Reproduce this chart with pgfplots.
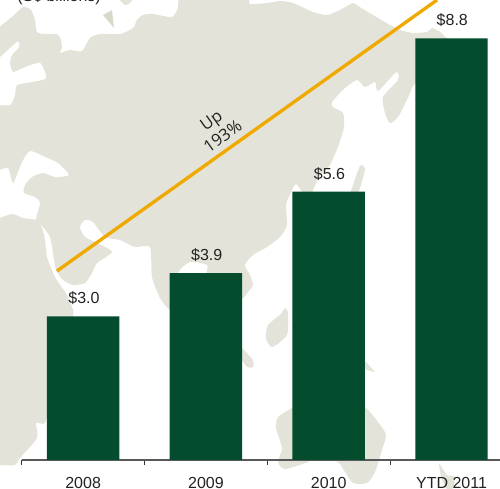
\documentclass[border=0pt]{standalone}
\usepackage{fontspec}
\setmainfont{Liberation Sans}
\newfontfamily\notefont{Open Sans}
\usepackage{pgfplots}
\pgfplotsset{compat=1.18}
\definecolor{land}{HTML}{E3E3D9}
\definecolor{landdk}{HTML}{D8D9CB}
\definecolor{bargreen}{HTML}{034D2E}
\definecolor{lineorange}{HTML}{EFA900}
\definecolor{txt}{HTML}{222222}
\begin{document}
\begin{tikzpicture}
\useasboundingbox (0,0) rectangle (375pt,366.75pt);
\clip (0,0) rectangle (375pt,366.75pt);
% map behind the chart, in picture pixels
\begin{axis}[
  at={(0,0)},scale only axis,width=375pt,height=366.75pt,
  xmin=0,xmax=500,ymin=0,ymax=489,y dir=reverse,hide axis
]
\addplot[fill=land,draw=none,smooth,tension=0.4] coordinates {
(-5,30)(12,17)(23,7)(31,10)(35,20)(37,32)(45,34)(57,34)(61,40)(62,48)(60,53)(70,50)(82,51)(90,38)(100,34)
(120,34)(133,28)(137,20)(143,15)(153,14)(172,17)(178,8)(183,-3)(245,-3)(250,4)(267,3)(280,1)(293,3)(313,12)
(327,15)(340,10)(353,3)(358,6)(373,15)(390,25)(400,30)(413,33)(427,32)(432,28)(440,32)(447,38)(470,50)(440,90)
(416,83)(407,100)(398,117)(390,123)(385,113)(383,97)(398,80)(398,73)(395,73)(378,91)(375,82)(365,87)(357,80)
(345,88)(332,102)(333,107)(343,113)(344,127)(339,144)(330,165)(320,175)(312,192)(305,200)(302,192)(296,184)
(291,192)(286,205)(287,225)(280,237)(267,247)(253,255)(245,265)(250,275)(253,285)(248,292)(240,300)(215,300)
(207,273)(207,265)(190,262)(178,273)(175,300)(170,310)(160,298)(152,277)(150,247)(135,247)(120,240)(105,237)
(93,222)(85,220)(80,227)(85,237)(97,243)(112,252)(97,263)(92,273)(85,283)(73,285)(63,280)(56,270)(53,253)
(50,237)(43,227)(36,220)(40,203)(35,197)(24,193)(25,185)(32,177)(43,173)(55,177)(69,175)(58,163)(43,156)
(30,151)(22,162)(13,183)(8,168)(-5,172)
};
% Africa
\addplot[fill=land,draw=none,smooth,tension=0.4] coordinates {
(-5,220)(12,214)(23,218)(36,220)(42,228)(45,240)(47,257)(55,277)(67,295)(72,307)(73,316)(60,350)(50,400)
(45,423)(36,423)(37,438)(20,458)(15,465)(-5,465)
};
% inland sea
\addplot[fill=white,draw=none,smooth,tension=0.4] coordinates {
(-5,62)(17,42)(19,47)(12,55)(10,63)(13,72)(23,68)(40,63)(46,78)(32,82)(17,85)(15,95)(10,105)(-5,105)
};
% islands
\addplot[fill=landdk,draw=none] coordinates {(103,15)(112,10)(114,28)};
\addplot[fill=land,draw=none,smooth,tension=0.4] coordinates {(118,-3)(120,0)(125,5)(130,3)(134,-3)};
\addplot[fill=land,draw=none,smooth,tension=0.4] coordinates {(350,194)(360,166)(365,170)(358,194)};
\addplot[fill=land,draw=none,smooth,tension=0.4] coordinates {(285,308)(288,312)(287,335)(272,347)(266,338)(268,325)(280,315)};
\addplot[fill=land,draw=none,smooth,tension=0.4] coordinates {(242,348)(253,360)(253,367)(247,367)(240,357)};
\addplot[fill=land,draw=none] coordinates {(360,355)(366,362)(375,372)(366,370)};
\addplot[fill=land,draw=none,smooth,tension=0.4] coordinates {
(292,408)(278,417)(276,428)(282,448)(278,462)(285,469)(308,462)(320,455)(338,462)(345,472)(353,483)(367,483)
(375,472)(382,450)(386,435)(378,422)(366,408)(340,390)
};
\addplot[fill=land,draw=none,smooth,tension=0.4] coordinates {(439,463)(447,475)(455,477)(452,490)(445,487)(440,472)};
\node[anchor=base west,font=\fontsize{12}{14}\selectfont,text=txt,inner sep=0pt] at (axis cs:17,1.5) {(S\$ billions)};
\end{axis}
\begin{axis}[
  at={(16.3pt,21.75pt)},anchor=south west,scale only axis,width=358.7pt,height=345pt,
  xmin=-0.5,xmax=3.395,ymin=0,ymax=9.603,
  axis x line=bottom,axis y line=none,axis line style={-,draw=black!65,line width=0.9pt},
  clip=false,
  xtick={0,1,2,3},xticklabels={2008,2009,2010,YTD 2011},
  minor xtick={-0.5,0.5,1.5,2.5},
  major tick length=0pt,minor tick length=3.75pt,
  tick align=outside,
  every minor tick/.style={draw=black!80,line width=0.6pt},
  xticklabel style={font=\fontsize{12}{14}\selectfont,text=txt,inner sep=0pt,yshift=-12.5pt},
  /pgf/number format/assume math mode=true
]
\addplot[ybar,bar width=0.59,fill=bargreen,draw=none,
  nodes near coords={\$\pgfmathprintnumber[fixed,fixed zerofill,precision=1]{\pgfplotspointmeta}},
  every node near coord/.append style={font=\fontsize{12}{14}\selectfont,text=txt,anchor=south,inner sep=0pt,yshift=8.5pt,xshift=0.6pt}
] coordinates {(0,3.0)(1,3.9)(2,5.6)(3,8.8)};
\addplot[lineorange,line width=2.5pt,mark=none] coordinates {(-0.2125,3.946)(2.882,9.603)};
\node[rotate=35.5,align=center,font=\notefont\fontsize{12.5}{15}\selectfont,text=txt,inner sep=0pt] at (axis cs:1.09,6.93) {Up\\193\%};
\end{axis}
\end{tikzpicture}
\end{document}
